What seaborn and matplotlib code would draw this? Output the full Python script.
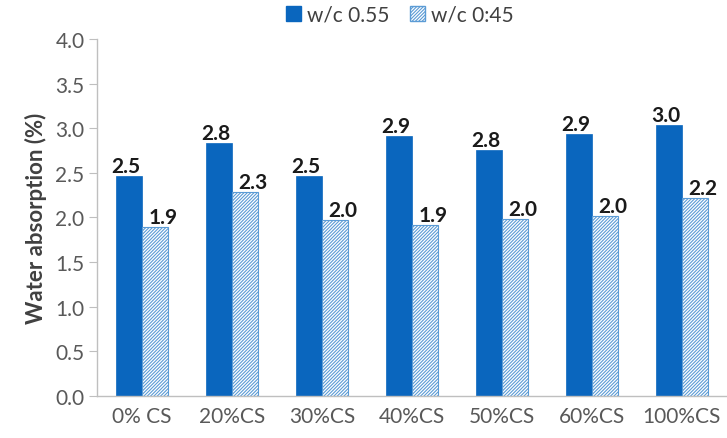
import numpy as np
import pandas as pd
import matplotlib
matplotlib.use("Agg")
import matplotlib.pyplot as plt
from matplotlib.patches import Patch
import seaborn as sns

categories = ["0% CS", "20%CS", "30%CS", "40%CS", "50%CS", "60%CS", "100%CS"]
series_names = ["w/c 0.55", "w/c 0:45"]
wc055 = [2.46, 2.83, 2.46, 2.91, 2.76, 2.93, 3.04]
wc045 = [1.89, 2.29, 1.97, 1.92, 1.98, 2.02, 2.22]
y_ticks = [0.0, 0.5, 1.0, 1.5, 2.0, 2.5, 3.0, 3.5, 4.0]

solid_blue = "#0A66BE"
hatch_blue = "#5B9BD5"

df = pd.DataFrame({
    "mix": categories * 2,
    "series": [series_names[0]] * len(categories) + [series_names[1]] * len(categories),
    "value": wc055 + wc045,
})

sns.set_theme(style="white")
plt.rcParams["font.family"] = ["Lato", "DejaVu Sans"]
plt.rcParams["hatch.linewidth"] = 0.8

fig = plt.figure(figsize=(7.27, 4.39), dpi=100)
ax = fig.add_axes([0.1334, 0.0957, 0.866, 0.8133])

sns.barplot(data=df, x="mix", y="value", hue="series", order=categories,
            hue_order=series_names, palette=[solid_blue, "white"],
            width=0.58, gap=0, ax=ax, legend=False, errorbar=None,
            saturation=1)

n = len(categories)
for i, bar in enumerate(ax.patches[:2 * n]):
    if i < n:
        bar.set_facecolor(solid_blue)
        bar.set_edgecolor(solid_blue)
        bar.set_linewidth(0.5)
    else:
        bar.set_facecolor("white")
        bar.set_edgecolor(hatch_blue)
        bar.set_hatch("//////////")
        bar.set_linewidth(0.8)

# value labels above each bar
for i, bar in enumerate(ax.patches[:2 * n]):
    h = bar.get_height()
    dx = -2 if i < n else 6
    ax.annotate(f"{h:.1f}", (bar.get_x() + bar.get_width() / 2, h),
                xytext=(dx, 0), textcoords="offset points",
                ha="center", va="bottom", fontsize=15, fontweight="bold",
                color="#1a1a1a")

ax.set_ylim(0, 4.0)
ax.set_xlim(-0.5, n - 0.5)
ax.set_yticks(y_ticks)
ax.set_yticklabels([f"{t:.1f}" for t in y_ticks])
ax.tick_params(axis="y", colors="#BFBFBF", labelsize=15, length=6,
               width=0.8, direction="out", left=True, pad=3)
ax.tick_params(axis="y", labelcolor="#595959")
ax.tick_params(axis="x", colors="#595959", labelsize=15, length=0, pad=7)
ax.set_xlabel("")
ax.set_ylabel("Water absorption (%)", fontsize=16, fontweight="bold",
              color="#404040", labelpad=6)

for side in ["top", "right"]:
    ax.spines[side].set_visible(False)
for side in ["left", "bottom"]:
    ax.spines[side].set_color("#BFBFBF")
    ax.spines[side].set_linewidth(1.0)

handles = [
    Patch(facecolor=solid_blue, edgecolor=solid_blue, label=series_names[0]),
    Patch(facecolor="white", edgecolor=hatch_blue, hatch="//////////",
          label=series_names[1]),
]
fig.legend(handles=handles, loc="center", bbox_to_anchor=(0.55, 0.964),
           ncol=2, frameon=False, fontsize=15, handlelength=0.7,
           handleheight=0.7, handletextpad=0.3, columnspacing=1.0,
           labelcolor="#404040")

fig.savefig("out.png", dpi=100)
